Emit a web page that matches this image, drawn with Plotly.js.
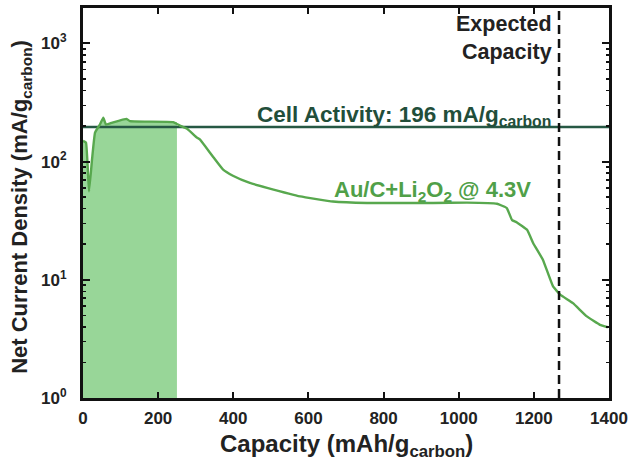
<!DOCTYPE html>
<html>
<head>
<meta charset="utf-8">
<script src="https://cdn.plot.ly/plotly-3.0.1.min.js"></script>
<style>html,body{margin:0;padding:0;background:#fff;}#chart{width:636px;height:461px;}</style>
</head>
<body>
<div id="chart"></div>
<script>
const capacity = [0, 8, 16, 24, 32, 45, 54, 61, 80, 116, 125, 170, 240, 258, 277, 303, 311, 338, 346, 373, 399, 444, 490, 578, 665, 756, 844, 932, 1022, 1102, 1128, 1142, 1155, 1182, 1198, 1224, 1251, 1270, 1304, 1341, 1376, 1397];
const current = [150, 145, 56, 104, 176, 206, 235, 206, 215, 230, 220, 218, 216, 202, 190, 160, 154, 119, 110, 85.5, 76, 66, 60, 50.8, 46, 44.7, 44.7, 44.7, 45, 44, 40.5, 32, 30.6, 26.5, 20.5, 14.8, 8.8, 7.5, 6.35, 4.9, 4.16, 3.97];
const shadedEnd = 250;
const shadedEndValue = 216;
const cellActivity = 196;
const expectedCapacity = 1267;
const xTickVals = [0, 200, 400, 600, 800, 1000, 1200, 1400];
const xTickLabels = ['0', '200', '400', '600', '800', '1000', '1200', '1400'];
const yTickVals = [1, 10, 100, 1000];
const yTickLabels = ['10<sup>0</sup>', '10<sup>1</sup>', '10<sup>2</sup>', '10<sup>3</sup>'];

const font = 'Arial, "Liberation Sans", sans-serif';

const shadeX = [], shadeY = [];
capacity.forEach((c, i) => { if (c <= shadedEnd) { shadeX.push(c); shadeY.push(current[i]); } });
shadeX.push(shadedEnd); shadeY.push(shadedEndValue);

const minorVals = [];
[1, 10, 100, 1000].forEach(d => { for (let k = 2; k <= 9; k++) minorVals.push(d * k); });

const traces = [
  { x: [0, shadedEnd], y: [1, 1], mode: 'lines', line: {width: 0, color: 'rgba(0,0,0,0)'}, hoverinfo: 'skip', showlegend: false },
  { x: shadeX, y: shadeY, mode: 'lines', fill: 'tonexty', fillcolor: 'rgb(152,214,152)', line: {width: 0, color: 'rgba(0,0,0,0)'}, showlegend: false },
  { x: [0, 1400], y: [cellActivity, cellActivity], mode: 'lines', line: {color: 'rgb(38,88,68)', width: 2.5}, showlegend: false },
  { x: capacity, y: current, mode: 'lines', line: {color: 'rgb(88,168,78)', width: 2.4, shape: 'spline', smoothing: 0.3}, showlegend: false }
];

const layout = {
  width: 636, height: 461,
  margin: {l: 83, r: 27, t: 8, b: 63},
  paper_bgcolor: '#fff', plot_bgcolor: '#fff',
  font: {family: font, color: '#222'},
  xaxis: {
    range: [0, 1400], type: 'linear',
    tickmode: 'array', tickvals: xTickVals, ticktext: xTickLabels,
    ticks: 'inside', ticklen: 6, tickwidth: 2, tickcolor: '#111',
    showline: true, linewidth: 3, linecolor: '#111', mirror: 'ticks',
    showgrid: false, zeroline: false,
    tickfont: {family: font, size: 17, color: '#222', weight: 'bold'},
    ticklabelstandoff: 3
  },
  yaxis: {
    type: 'log', range: [0, 3.3],
    tickmode: 'array', tickvals: yTickVals, ticktext: yTickLabels,
    ticks: 'inside', ticklen: 7, tickwidth: 2, tickcolor: '#111',
    minor: {tickmode: 'array', tickvals: minorVals, ticks: 'inside', ticklen: 3, tickwidth: 1.5, tickcolor: '#111', showgrid: false},
    showline: true, linewidth: 3, linecolor: '#111', mirror: 'ticks',
    showgrid: false, zeroline: false,
    tickfont: {family: font, size: 17, color: '#222', weight: 'bold'},
    ticklabelstandoff: 10
  },
  shapes: [
    {type: 'line', xref: 'x', yref: 'paper', x0: expectedCapacity, x1: expectedCapacity, y0: 0, y1: 1,
     line: {color: '#111', width: 2.5, dash: '9px,5px'}}
  ],
  annotations: [
    {text: '<b>Capacity (mAh/g<sub>carbon</sub>)</b>', xref: 'paper', yref: 'paper', x: 0.5, y: -0.122, xanchor: 'center', yanchor: 'middle', showarrow: false,
     font: {family: font, size: 24, color: '#222'}},
    {text: '<b>Net Current Density (mA/g<sub>carbon</sub>)</b>', xref: 'paper', yref: 'paper', x: -0.118, y: 0.49, xanchor: 'center', yanchor: 'middle', textangle: -90, showarrow: false,
     font: {family: font, size: 22, color: '#222'}},
    {text: '<b>Expected<br>Capacity</b>', xref: 'x', yref: 'paper', x: 1254, y: 0.923, xanchor: 'right', yanchor: 'middle', align: 'right', showarrow: false,
     font: {family: font, size: 21.5, color: '#222'}},
    {text: '<b>Cell Activity: 196 mA/g<sub>carbon</sub></b>', xref: 'x', yref: 'paper', x: 1252, y: 0.722, xanchor: 'right', yanchor: 'middle', showarrow: false,
     font: {family: font, size: 22.5, color: 'rgb(34,78,58)'}},
    {text: '<b>Au/C+Li<sub>2</sub>O<sub>2</sub> @ 4.3V</b>', xref: 'x', yref: 'paper', x: 663, y: 0.53, xanchor: 'left', yanchor: 'middle', showarrow: false,
     font: {family: font, size: 22, color: 'rgb(80,160,72)'}}
  ]
};

Plotly.newPlot('chart', traces, layout, {displayModeBar: false, staticPlot: true});
</script>
</body>
</html>
